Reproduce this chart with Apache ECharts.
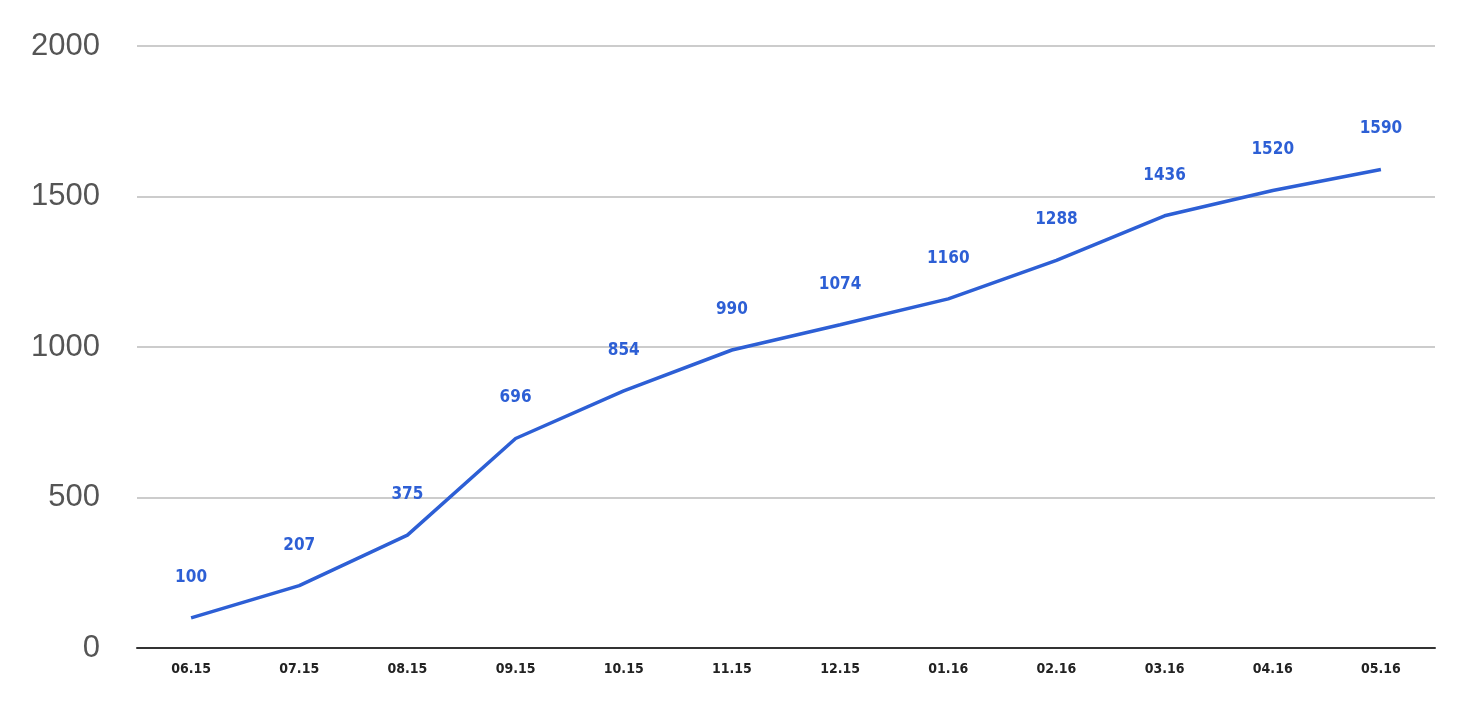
<!DOCTYPE html>
<html>
<head>
<meta charset="utf-8">
<script src="https://cdn.jsdelivr.net/npm/echarts@6/dist/echarts.min.js"></script>
<style>
html, body { margin: 0; padding: 0; background: #fff; }
#chart { width: 1466px; height: 715px; }
</style>
</head>
<body>
<div id="chart"></div>
<script>
// 月份
var months = ['06.15', '07.15', '08.15', '09.15', '10.15', '11.15', '12.15', '01.16', '02.16', '03.16', '04.16', '05.16'];
// 数值
var values = [100, 207, 375, 696, 854, 990, 1074, 1160, 1288, 1436, 1520, 1590];
var yTicks = [0, 500, 1000, 1500, 2000];

var chart = echarts.init(document.getElementById('chart'));
var option = {
    animation: false,
    grid: { left: 137, right: 31, top: 46, bottom: 67 },
    xAxis: {
        type: 'category',
        data: months,
        boundaryGap: true,
        axisLine: { lineStyle: { color: '#333', width: 2 } },
        axisTick: { show: false },
        axisLabel: {
            color: '#222',
            fontSize: 14,
            fontWeight: 'bold',
            fontFamily: 'DejaVu Sans Condensed, DejaVu Sans',
            margin: 14
        }
    },
    yAxis: {
        type: 'value',
        min: yTicks[0],
        max: yTicks[yTicks.length - 1],
        interval: 500,
        axisLine: { show: false },
        axisTick: { show: false },
        splitLine: { lineStyle: { color: '#ccc', width: 2 } },
        axisLabel: {
            color: '#555',
            fontSize: 31,
            fontFamily: 'Liberation Sans',
            margin: 37,
            formatter: function (v) { return String(v); }
        }
    },
    series: [{
        type: 'line',
        data: values,
        symbol: 'circle',
        symbolSize: 0,
        showSymbol: true,
        lineStyle: { color: '#2d5fd5', width: 3.5 },
        itemStyle: { color: '#2d5fd5' },
        label: {
            show: true,
            position: 'top',
            distance: 32,
            color: '#2d5fd5',
            fontSize: 17,
            fontWeight: 'bold',
            fontFamily: 'DejaVu Sans Condensed, Liberation Sans'
        }
    }]
};
chart.setOption(option);
</script>
</body>
</html>
